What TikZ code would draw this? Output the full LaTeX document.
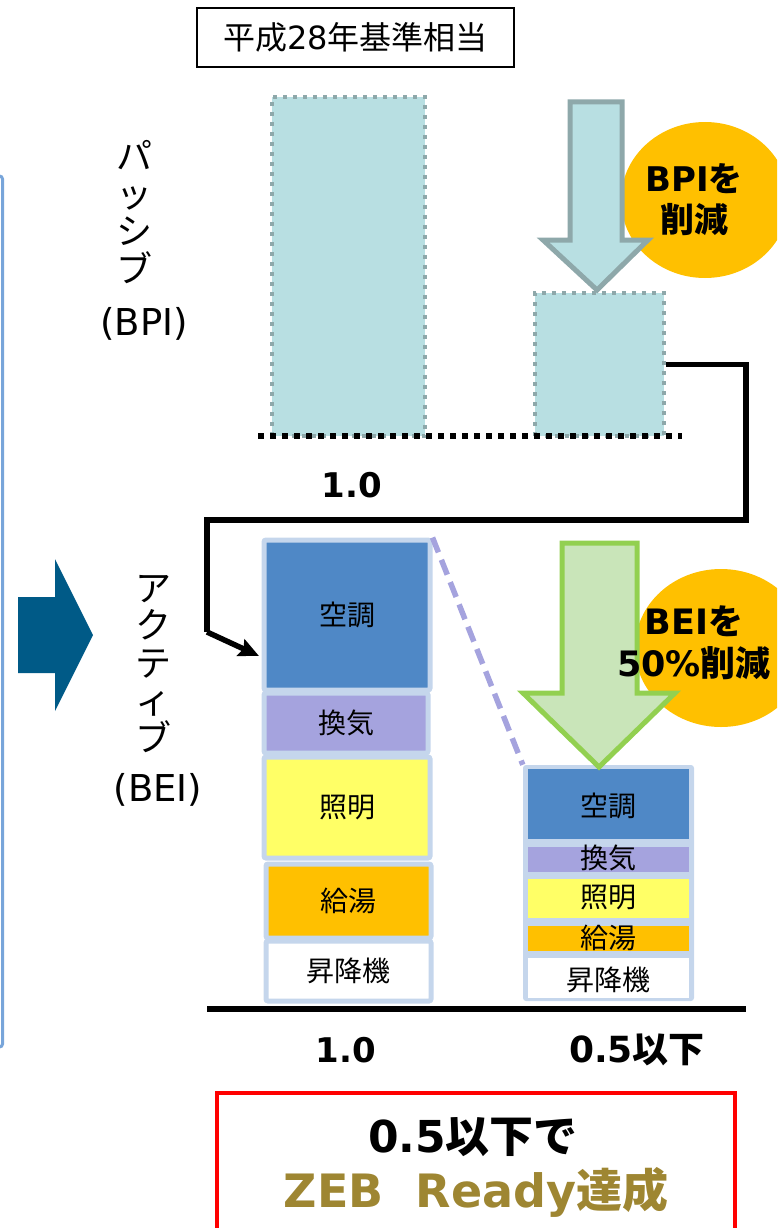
\documentclass[tikz,border=0pt]{standalone}
\usepackage{fontspec}
\setmainfont{Noto Sans CJK JP}
\newfontfamily\dv{DejaVu Sans}
\usetikzlibrary{arrows.meta,shapes.geometric}
\definecolor{bpifill}{RGB}{184,223,226}
\definecolor{bpidot}{RGB}{142,168,170}
\definecolor{acblue}{RGB}{79,136,198}
\definecolor{ventpurple}{RGB}{165,163,222}
\definecolor{lightyellow}{RGB}{255,255,102}
\definecolor{hotorange}{RGB}{255,192,0}
\definecolor{stkborder}{RGB}{197,214,236}
\definecolor{ovalorange}{RGB}{255,192,0}
\definecolor{greenborder}{RGB}{146,208,80}
\definecolor{greenfill}{RGB}{201,229,185}
\definecolor{navyarrow}{RGB}{0,90,135}
\definecolor{sideline}{RGB}{120,165,218}
\definecolor{goldtext}{RGB}{158,134,50}
\definecolor{dashpurple}{RGB}{165,163,222}
\begin{document}
\begin{tikzpicture}[x=1pt,y=-1pt,
  bpibar/.style={draw=bpidot, fill=bpifill, line width=4pt, dash pattern=on 4pt off 6pt, inner sep=0pt},
  stk/.style={draw=stkborder, line width=5pt, inner sep=0pt, rounded corners=2pt},
  rstk/.style={inner sep=0pt, draw=none},
  stktext/.style={font=\fontsize{28}{30}\selectfont},
  vtext/.style={font=\fontsize{36}{37.5}\selectfont, align=center, inner sep=0pt},
  oval/.style={ellipse, fill=ovalorange, inner sep=0pt},
  boldlab/.style={font=\bfseries\fontsize{34}{41}\selectfont, align=center, inner sep=0pt},
  numlab/.style={font=\dv\bfseries\fontsize{34}{36}\selectfont, inner sep=0pt},
  conn/.style={line width=5.5pt, line join=miter},
  bpiarrow/.style={draw=bpidot, fill=bpifill, line width=5pt, line join=miter},
  beiarrow/.style={draw=greenborder, fill=greenfill, line width=5pt, line join=miter}
]
\useasboundingbox (0,0) rectangle (777,1228);
\clip (0,0) rectangle (777,1228);

% left side line (edge of a frame)
\draw[sideline, line width=3pt, rounded corners=3pt] (-100,176) rectangle (2.5,1047);

% title
\node[draw=black, line width=1.5pt, minimum width=317pt, minimum height=59pt, inner sep=0pt,
      font=\fontsize{32}{34}\selectfont] (title) at (355.5,37.5) {平成{\dv 28}年基準相当};

% vertical labels
\node[vtext] (passive) at (134,212) {パ\\ッ\\シ\\ブ};
\node[font=\dv\fontsize{37}{40}\selectfont, inner sep=0pt] (bpilab) at (144,324) {(BPI)};
\node[vtext] (active) at (153,664) {ア\\ク\\テ\\ィ\\ブ};
\node[font=\dv\fontsize{37}{40}\selectfont, inner sep=0pt] (beilab) at (158,790) {(BEI)};

% navy arrow
\draw[fill=navyarrow, draw=none] (18,597) -- (55,597) -- (55,559) -- (93,635) -- (55,711) -- (55,673) -- (18,673) -- cycle;

% BPI bars
\node[bpibar, minimum width=153pt, minimum height=339pt] (bpi1) at (348.5,266.5) {};
\node[bpibar, minimum width=129pt, minimum height=143pt] (bpi2) at (599.5,364.5) {};
\coordinate (bl1) at (258,436);
\coordinate (bl2) at (682,436);
\draw[line width=5.5pt, dash pattern=on 5.5pt off 6.5pt] (bl1) -- (bl2);
\node[numlab] (one1) at (352,485) {1.0};

% BPI oval + arrow
\node[oval, minimum width=168pt, minimum height=156pt] (oval1) at (705,200) {};
\draw[bpiarrow] (570,102) -- (622,102) -- (622,240) -- (648,240) -- (597,290) -- (543,240) -- (570,240) -- cycle;
\node[boldlab] (bpitxt) at (694,200) {{\dv BPI}を\\削減};

% connector
\coordinate (c1) at (746,520);
\coordinate (c2) at (207,520);
\coordinate (c3) at (207,632);
\coordinate (tip) at (259,656);
\draw[conn] (bpi2.east) -| (c1) -- (c2) -- (c3);
\draw[conn, -{Stealth[length=20pt,width=18pt,inset=3pt]}] (c3) -- (tip);

% left BEI stack
\node[stk, fill=acblue, minimum width=166pt, minimum height=150pt] (ac1) at (347,615) {};
\node[stktext] (tac1) at (ac1.center) {空調};
\node[stk, fill=ventpurple, minimum width=164pt, minimum height=60pt] (vent1) at (346,723) {};
\node[stktext] (tvent1) at (vent1.center) {換気};
\node[stk, fill=lightyellow, minimum width=166pt, minimum height=101pt] (light1) at (347,807.5) {};
\node[stktext] (tlight1) at (light1.center) {照明};
\node[stk, fill=hotorange, minimum width=165pt, minimum height=74pt] (hot1) at (348.5,901) {};
\node[stktext] (thot1) at (hot1.center) {給湯};
\node[stk, fill=white, minimum width=165pt, minimum height=60pt] (elev1) at (348.5,971) {};
\node[stktext] (telev1) at (elev1.center) {昇降機};

% right BEI stack
\node[rstk, fill=stkborder, rounded corners=3pt, minimum width=171pt, minimum height=236pt] (rstack) at (608.5,883) {};
\node[rstk, fill=acblue, minimum width=161pt, minimum height=70pt] (ac2) at (608.5,804) {};
\node[rstk, fill=ventpurple, minimum width=161pt, minimum height=25pt] (vent2) at (608.5,859.5) {};
\node[rstk, fill=lightyellow, minimum width=161pt, minimum height=39pt] (light2) at (608.5,898.5) {};
\node[rstk, fill=hotorange, minimum width=161pt, minimum height=25pt] (hot2) at (608.5,938.5) {};
\node[rstk, fill=white, minimum width=161pt, minimum height=40pt] (elev2) at (608.5,978) {};
\node[stktext] (tac2) at (608.5,806) {空調};
\node[stktext] (tvent2) at (608.5,858) {換気};
\node[stktext] (tlight2) at (608.5,898) {照明};
\node[stktext] (thot2) at (608.5,938) {給湯};
\node[stktext] (telev2) at (608.5,980) {昇降機};

% dashed link
\draw[dashpurple, line width=5.5pt, dash pattern=on 16pt off 8pt] (ac1.north east) -- (rstack.north west);

% BEI oval + arrow
\node[oval, minimum width=172pt, minimum height=158pt] (oval2) at (721,648) {};
\draw[beiarrow] (562,543) -- (637,543) -- (637,693) -- (675,693) -- (599,767) -- (523,693) -- (562,693) -- cycle;
\node[boldlab, font=\bfseries\fontsize{35}{42}\selectfont] (beitxt) at (694,643) {{\dv BEI}を\\{\dv 50\%}削減};

% baseline + labels
\coordinate (b1) at (207,1009);
\coordinate (b2) at (746,1009);
\draw[line width=6pt] (b1) -- (b2);
\node[numlab] (one2) at (346,1050) {1.0};
\node[font=\bfseries\fontsize{36}{38}\selectfont, inner sep=0pt] (half) at (637,1050) {{\dv 0.5}以下};

% result box
\draw[red, line width=3.5pt] (217,1093) rectangle (735,1240);
\node[font=\bfseries\fontsize{44}{48}\selectfont, inner sep=0pt] (res1) at (473,1137) {{\dv 0.5}以下で};
\node[font=\bfseries\fontsize{46}{50}\selectfont, text=goldtext, inner sep=0pt] (res2) at (476,1192) {{\dv ZEB\ \ Ready}達成};
\end{tikzpicture}
\end{document}
